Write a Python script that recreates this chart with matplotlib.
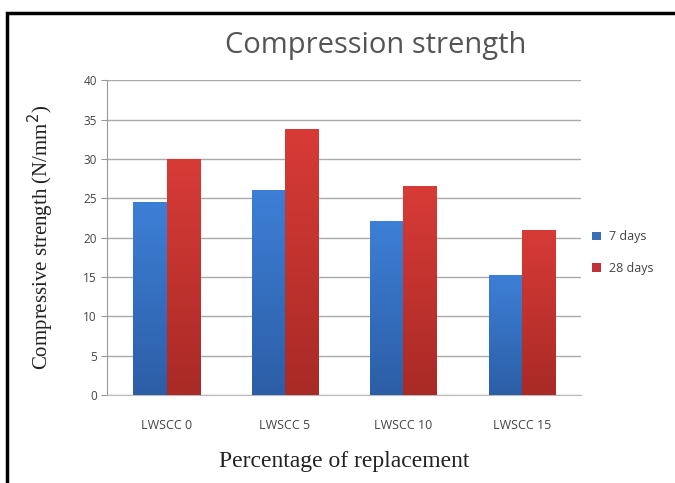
import numpy as np
import matplotlib.pyplot as plt
from matplotlib.patches import Rectangle

categories = ['LWSCC 0', 'LWSCC 5', 'LWSCC 10', 'LWSCC 15']
days_7 = [24.5, 26.0, 22.1, 15.2]
days_28 = [30.0, 33.8, 26.5, 21.0]
series_names = ['7 days', '28 days']
y_ticks = [0, 5, 10, 15, 20, 25, 30, 35, 40]

fig = plt.figure(figsize=(6.75, 4.83), dpi=100)
ax = fig.add_axes([0.159, 0.182, 0.702, 0.652])

x = np.arange(len(categories))
w = 0.28


def gradient_bars(bars, top_col, bot_col):
    # vertical gradient, clipped to each bar
    grad = np.linspace(0, 1, 256).reshape(-1, 1)
    top = np.array(plt.matplotlib.colors.to_rgb(top_col))
    bot = np.array(plt.matplotlib.colors.to_rgb(bot_col))
    img = (bot[None, None, :] * (1 - grad[..., None]) + top[None, None, :] * grad[..., None])
    for b in bars:
        x0, y0 = b.get_x(), b.get_y()
        im = ax.imshow(img, extent=[x0, x0 + b.get_width(), y0, y0 + b.get_height()],
                       origin='lower', aspect='auto', zorder=3)
        im.set_clip_path(b)
        b.set_facecolor('none')


b1 = ax.bar(x - w / 2, days_7, w, color='#3a78c9', zorder=2, label=series_names[0])
b2 = ax.bar(x + w / 2, days_28, w, color='#cf3433', zorder=2, label=series_names[1])
gradient_bars(b1, '#3d7fd6', '#2c5ea6')
gradient_bars(b2, '#d83b36', '#a92a26')

ax.set_xlim(-0.5, len(categories) - 0.5)
ax.set_ylim(0, 40)
ax.set_yticks(y_ticks)
ax.set_xticks(x)
ax.set_xticklabels(categories, fontsize=9, color='#444444', family='Open Sans')
ax.tick_params(axis='y', labelsize=8.5, labelcolor='#444444', length=4, color='#999999')
ax.tick_params(axis='x', length=0, pad=17)
for lab in ax.get_yticklabels():
    lab.set_family('Open Sans')
ax.grid(axis='y', color='#aaaaaa', linewidth=1, zorder=0)
ax.set_axisbelow(True)
for s in ['top', 'right']:
    ax.spines[s].set_visible(False)
ax.spines['left'].set_color('#999999')
ax.spines['bottom'].set_color('#bbbbbb')

ax.set_ylabel('Compressive strength (N/mm$^2$)', family='Liberation Serif', fontsize=15,
              color='#222222', labelpad=20)
ax.set_xlabel('Percentage of replacement', family='Liberation Serif', fontsize=17,
              color='#222222', labelpad=14)
fig.text(0.556, 0.905, 'Compression strength', ha='center', va='center',
         fontsize=21, color='#555555', family='Open Sans')

leg = ax.legend(handles=[b1, b2], loc='center left', bbox_to_anchor=(1.0, 0.452),
                frameon=False, handlelength=0.7, handleheight=0.7,
                handletextpad=0.6, labelspacing=1.5, prop={'family': 'Open Sans', 'size': 9})
for h, c in zip(leg.legend_handles, ['#3a6fb5', '#c0313a']):
    h.set_facecolor(c)
for t in leg.get_texts():
    t.set_color('#444444')

# black frame around the figure
fig.patches.append(Rectangle((0.011, -0.1), 1.2, 1.073, transform=fig.transFigure,
                             fill=False, edgecolor='black', linewidth=2.5))

fig.savefig('out.png', dpi=100)
